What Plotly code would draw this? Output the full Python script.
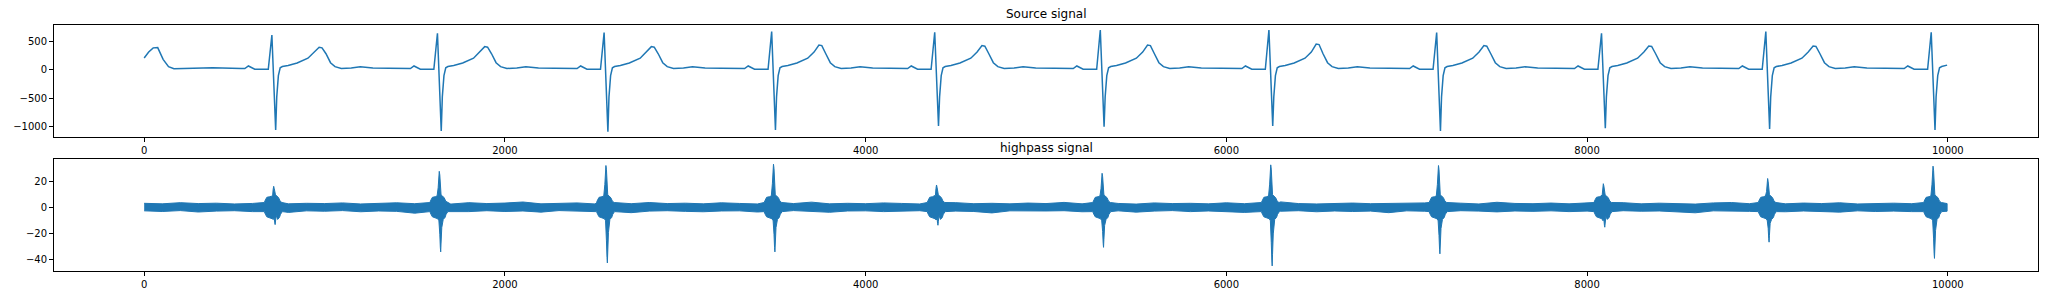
import plotly.graph_objects as go

# ---------------- data ----------------
# Source signal: one ECG beat per R peak (sample index, R amplitude, S amplitude, T amplitude)
beat_r_index = [708, 1626, 2550, 3479, 4383, 5301, 6236, 7166, 8080, 8991, 9908]
beat_r_peak = [625, 655, 667, 685, 673, 714, 714, 667, 655, 685, 673]
beat_s_trough = [-1071, -1089, -1101, -1071, -1000, -1012, -1000, -1089, -1041, -1053, -1071]
beat_t_peak = [405, 417, 417, 446, 435, 446, 464, 435, 429, 429, 429]

# beat waveform key points (sample offset from R peak, level); strings = per-beat R / S / T value
beat_shape_offset = [-170, -150, -130, -112, -95, -60, -20, 0, 21, 27, 36, 46, 58, 90, 140,
                     200, 235, 262, 278, 300, 325, 350, 385, 440, 490, 560, 650]
beat_shape_level = [28, 25, 72, 40, 15, 15, 12, "R", "S", -480, -100, 40, 62, 80, 125,
                    210, 320, "T", "T-", 290, 130, 60, 28, 35, 58, 35, 30]

# start of the record (tail of a T wave) and the last sample
src_head_x = [0, 25, 50, 75, 105, 135, 165, 250, 380]
src_head_y = [215, 320, 395, 400, 190, 60, 22, 28, 40]
src_tail_x = [9996]
src_tail_y = [87]

# Highpass signal: burst extremes at each QRS complex
hp_burst_max = [16.5, 28.0, 32.5, 33.5, 17.5, 26.5, 33.0, 32.5, 18.5, 22.5, 32.0]
hp_burst_min = [-13.0, -34.0, -42.5, -34.0, -13.5, -30.5, -44.8, -35.5, -15.0, -26.5, -39.0]
# burst envelope shape: (offset from R peak, level or fraction of the burst extreme)
hp_up_offset = [-42, -36, -28, -12, -2, 4, 7, 10, 13, 16, 20, 28, 38, 46, 56]
hp_up_level = [4.0, 6.0, 8.0, 8.5, 9.0, 0.55, 0.85, 1.0, 0.9, 0.6, 10.0, 9.0, 7.5, 5.0, 4.0]
hp_up_rel = [False, False, False, False, False, True, True, True, True, True, False, False, False, False, False]
hp_lo_offset = [-42, -36, -28, -12, 2, 8, 13, 16, 18, 20, 24, 32, 42, 48, 58]
hp_lo_level = [-3.0, -5.0, -7.0, -8.0, -8.5, -10.0, 0.6, 0.9, 1.0, 0.8, 0.45, -9.0, -7.5, -5.0, -3.0]
hp_lo_rel = [False, False, False, False, False, False, True, True, True, True, True, False, False, False, False]

# background noise band of the highpass signal (every 100 samples)
hp_noise_x = list(range(0, 10000, 100)) + [9996]
hp_noise_up = [3.4, 3.0, 3.9, 3.2, 3.5, 2.9, 3.3, 4.6, 3.0, 3.4,
               3.2, 3.7, 2.9, 3.5, 3.8, 3.1, 3.3, 2.8, 3.9, 3.2,
               3.6, 4.4, 3.0, 3.3, 3.7, 2.9, 3.4, 3.1, 4.0, 3.2,
               3.5, 3.0, 3.8, 3.3, 2.9, 3.6, 3.2, 4.3, 3.0, 3.4,
               3.1, 3.7, 3.3, 2.9, 3.5, 3.9, 3.1, 3.4, 3.0, 3.6,
               3.2, 4.1, 3.0, 3.5, 3.3, 2.8, 3.7, 3.2, 3.4, 3.0,
               3.8, 3.1, 3.5, 4.5, 3.2, 2.9, 3.4, 3.6, 3.1, 3.3,
               3.0, 3.7, 3.2, 3.5, 2.9, 4.2, 3.3, 3.1, 3.6, 3.0,
               3.4, 3.2, 3.9, 3.0, 3.5, 3.3, 2.8, 3.7, 4.0, 3.1,
               3.4, 3.0, 3.6, 3.2, 3.8, 2.9, 3.3, 3.5, 3.1, 3.4, 3.2]
hp_noise_lo = [-2.4, -2.9, -2.2, -3.3, -2.6, -2.3, -3.0, -2.5, -3.6, -2.4,
               -2.7, -2.2, -3.1, -2.5, -2.8, -4.2, -2.4, -2.6, -3.0, -2.3,
               -2.9, -2.5, -3.4, -2.2, -2.7, -3.0, -2.4, -3.8, -2.6, -2.3,
               -2.8, -3.1, -2.5, -2.4, -3.3, -2.6, -2.2, -2.9, -3.5, -2.5,
               -2.4, -3.0, -2.7, -2.3, -3.2, -2.6, -2.9, -4.0, -2.4, -2.7,
               -2.5, -2.3, -3.1, -2.8, -2.4, -3.4, -2.6, -2.2, -3.0, -2.5,
               -2.8, -3.6, -2.4, -2.7, -2.3, -3.1, -2.5, -2.9, -2.6, -3.8,
               -2.4, -2.7, -3.0, -2.3, -2.6, -3.2, -2.5, -2.8, -2.4, -3.0,
               -2.6, -3.3, -2.3, -2.7, -2.5, -3.0, -3.9, -2.4, -2.6, -2.8,
               -2.3, -3.1, -2.5, -2.7, -3.4, -2.4, -2.9, -2.6, -3.0, -2.5, -2.7]

x_ticks = [0, 2000, 4000, 6000, 8000, 10000]
x_tick_text = ["0", "2000", "4000", "6000", "8000", "10000"]
src_y_ticks = [-1000, -500, 0, 500]
hp_y_ticks = [-40, -20, 0, 20]

# ---------------- build the source polyline ----------------
last_index = src_tail_x[-1]
src_x = list(src_head_x)
src_y = list(src_head_y)
for r, R, S, T in zip(beat_r_index, beat_r_peak, beat_s_trough, beat_t_peak):
    for off, lev in zip(beat_shape_offset, beat_shape_level):
        if lev == "R":
            v = R
        elif lev == "S":
            v = S
        elif lev == "T":
            v = T
        elif lev == "T-":
            v = T - 10
        else:
            v = lev
        if r + off < last_index:
            src_x.append(r + off)
            src_y.append(v)
src_x += src_tail_x
src_y += src_tail_y

# ---------------- build the highpass band polygon ----------------
def in_burst(x):
    return any(r - 48 <= x <= r + 62 for r in beat_r_index)

up_pts = [(x, v) for x, v in zip(hp_noise_x, hp_noise_up) if not in_burst(x)]
lo_pts = [(x, v) for x, v in zip(hp_noise_x, hp_noise_lo) if not in_burst(x)]
for r, M, m in zip(beat_r_index, hp_burst_max, hp_burst_min):
    for off, lev, rel in zip(hp_up_offset, hp_up_level, hp_up_rel):
        up_pts.append((r + off, lev * M if rel else min(lev, 0.6 * M)))
    for off, lev, rel in zip(hp_lo_offset, hp_lo_level, hp_lo_rel):
        lo_pts.append((r + off, lev * m if rel else max(lev, 0.7 * m)))
up_pts.sort()
lo_pts.sort()
hp_x = [p[0] for p in up_pts] + [p[0] for p in reversed(lo_pts)]
hp_y = [p[1] for p in up_pts] + [p[1] for p in reversed(lo_pts)]

# ---------------- figure ----------------
W, H = 2045, 297
ML, MR, MT, MB = 54, 7, 25, 26
plot_h = H - MT - MB
def py(pix):  # pixel row -> paper y
    return (H - MB - pix) / plot_h

blue = "#1f77b4"
fig = go.Figure()
fig.add_trace(go.Scatter(x=src_x, y=src_y, mode="lines",
                         line=dict(color=blue, width=1.5),
                         xaxis="x", yaxis="y", showlegend=False, hoverinfo="skip"))
fig.add_trace(go.Scatter(x=hp_x, y=hp_y, mode="lines", fill="toself",
                         fillcolor=blue, line=dict(color=blue, width=1),
                         xaxis="x2", yaxis="y2", showlegend=False, hoverinfo="skip"))

font = dict(family="DejaVu Sans", size=10, color="black")
axis_common = dict(showline=True, mirror=True, linecolor="black", linewidth=1,
                   ticks="outside", ticklen=4, tickwidth=1, tickcolor="black",
                   showgrid=False, zeroline=False, tickfont=font)

fig.update_layout(
    width=W, height=H,
    margin=dict(l=ML, r=MR, t=MT, b=MB),
    paper_bgcolor="white", plot_bgcolor="white",
    xaxis=dict(domain=[0, 1], anchor="y", range=[-500, 10500],
               tickvals=x_ticks, ticktext=x_tick_text, **axis_common),
    yaxis=dict(domain=[py(137), 1], anchor="x", range=[-1196, 803],
               tickvals=src_y_ticks, **axis_common),
    xaxis2=dict(domain=[0, 1], anchor="y2", range=[-500, 10500],
                tickvals=x_ticks, ticktext=x_tick_text, **axis_common),
    yaxis2=dict(domain=[0, py(159)], anchor="x2", range=[-48.7, 37.5],
                tickvals=hp_y_ticks, **axis_common),
    annotations=[
        dict(text="Source signal", x=0.5, y=py(14), xref="paper", yref="paper",
             showarrow=False, xanchor="center", yanchor="middle",
             font=dict(family="DejaVu Sans", size=12, color="black")),
        dict(text="highpass signal", x=0.5, y=py(148), xref="paper", yref="paper",
             showarrow=False, xanchor="center", yanchor="middle",
             font=dict(family="DejaVu Sans", size=12, color="black")),
    ],
)

fig.write_html("out.html")
